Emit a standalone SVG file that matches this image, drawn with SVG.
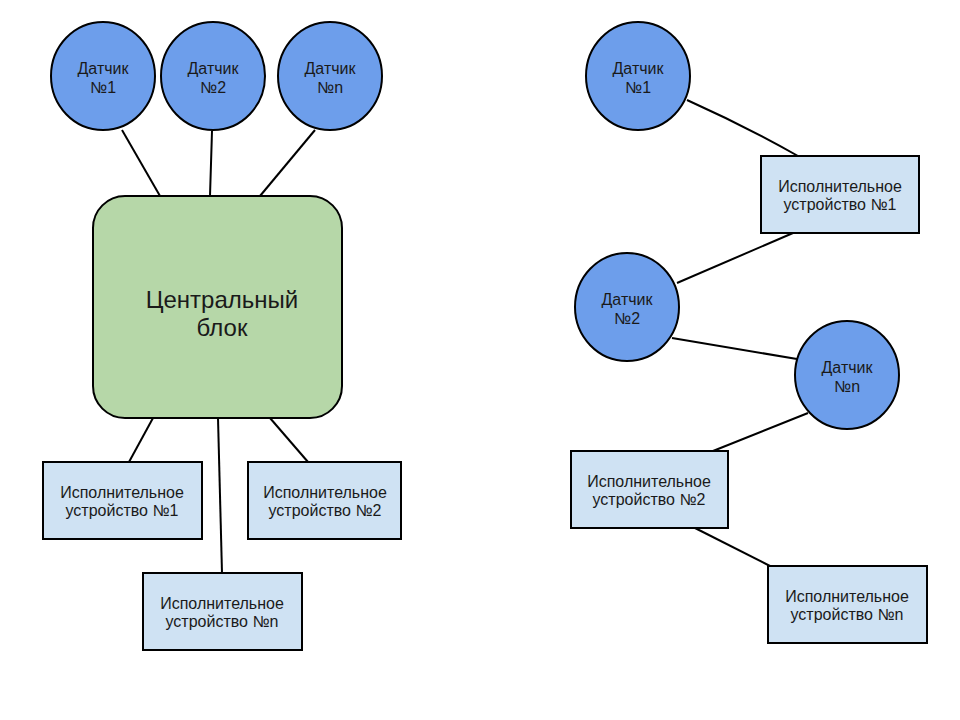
<svg xmlns="http://www.w3.org/2000/svg" width="960" height="720" viewBox="0 0 960 720">
<style>
.s{fill:#6d9eeb;stroke:#000;stroke-width:2}
.b{fill:#cfe2f3;stroke:#000;stroke-width:2}
.c{fill:#b6d7a8;stroke:#000;stroke-width:2}
.e{stroke:#000;stroke-width:2;fill:none}
text{font-family:"Liberation Sans",Arial,sans-serif;font-size:16px;fill:#1a1a1a;text-anchor:middle}
.big{font-size:24px}
</style>
<rect width="960" height="720" fill="#fff"/>
<g id="connectors">
<line class="e" x1="122" y1="130" x2="160" y2="196"/>
<line class="e" x1="212" y1="131" x2="210" y2="196"/>
<line class="e" x1="315" y1="130" x2="260" y2="196"/>
<line class="e" x1="153" y1="418" x2="129" y2="462"/>
<line class="e" x1="218" y1="418" x2="222" y2="573"/>
<line class="e" x1="270" y1="418" x2="308" y2="462"/>
<path class="e" d="M687,100 Q745,126 798,156"/>
<line class="e" x1="793" y1="233" x2="677" y2="283"/>
<line class="e" x1="672" y1="338" x2="797" y2="359"/>
<line class="e" x1="808" y1="413" x2="713" y2="451"/>
<line class="e" x1="695" y1="528" x2="770" y2="566"/>
</g>
<g id="l-sensor1"><ellipse class="s" cx="103" cy="76" rx="52" ry="54"/><text x="103" y="74">Датчик</text><text x="103" y="93">№1</text></g>
<g id="l-sensor2"><ellipse class="s" cx="213" cy="76" rx="52" ry="54"/><text x="213" y="74">Датчик</text><text x="213" y="93">№2</text></g>
<g id="l-sensorn"><ellipse class="s" cx="330" cy="76" rx="52" ry="54"/><text x="330" y="74">Датчик</text><text x="330" y="93">№n</text></g>
<g id="central"><rect class="c" x="93" y="196" width="249" height="222" rx="32"/><text class="big" x="222" y="308">Центральный</text><text class="big" x="222" y="336">блок</text></g>
<g id="l-dev1"><rect class="b" x="43" y="462" width="159" height="77"/><text x="122" y="498">Исполнительное</text><text x="122" y="516">устройство №1</text></g>
<g id="l-dev2"><rect class="b" x="248" y="462" width="153" height="77"/><text x="325" y="498">Исполнительное</text><text x="325" y="516">устройство №2</text></g>
<g id="l-devn"><rect class="b" x="143" y="573" width="159" height="77"/><text x="222" y="609">Исполнительное</text><text x="222" y="627">устройство №n</text></g>
<g id="r-sensor1"><ellipse class="s" cx="638" cy="76" rx="52" ry="54"/><text x="638" y="74">Датчик</text><text x="638" y="93">№1</text></g>
<g id="r-dev1"><rect class="b" x="761" y="156" width="158" height="77"/><text x="840" y="192">Исполнительное</text><text x="840" y="210">устройство №1</text></g>
<g id="r-sensor2"><ellipse class="s" cx="627" cy="307" rx="52" ry="54"/><text x="627" y="305">Датчик</text><text x="627" y="324">№2</text></g>
<g id="r-sensorn"><ellipse class="s" cx="847" cy="375" rx="52" ry="54"/><text x="847" y="373">Датчик</text><text x="847" y="392">№n</text></g>
<g id="r-dev2"><rect class="b" x="571" y="451" width="157" height="77"/><text x="649" y="487">Исполнительное</text><text x="649" y="505">устройство №2</text></g>
<g id="r-devn"><rect class="b" x="768" y="566" width="159" height="77"/><text x="847" y="602">Исполнительное</text><text x="847" y="620">устройство №n</text></g>
</svg>
